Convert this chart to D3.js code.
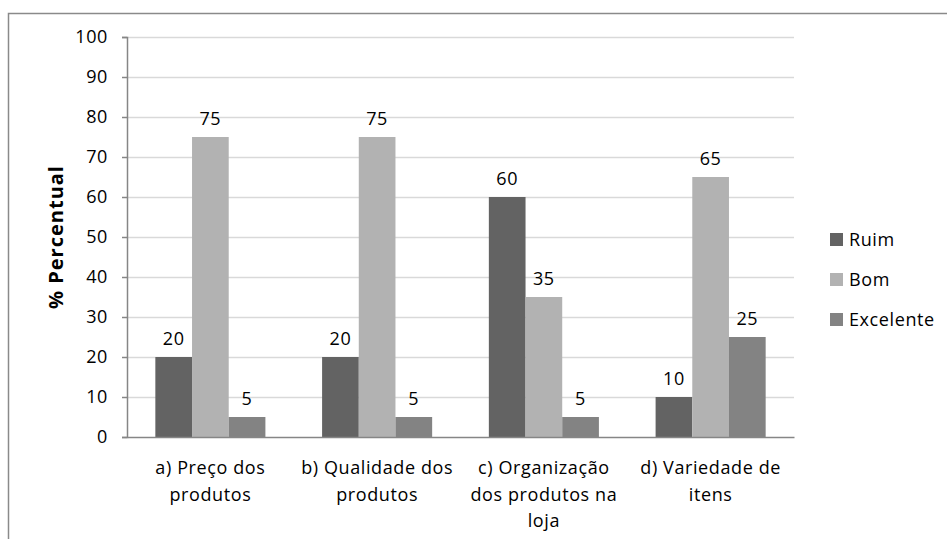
<!DOCTYPE html>
<html lang="pt">
<head>
<meta charset="UTF-8">
<title>Percentual</title>
<script src="https://cdnjs.cloudflare.com/ajax/libs/d3/7.8.4/d3.min.js"></script>
<style>
  body { margin: 0; background: #fff; }
  text { font-family: "Open Sans", sans-serif; fill: #000; letter-spacing: 0.6px; }
</style>
</head>
<body>
<div id="chart"></div>
<script>
// data
const categories = [
  ["a) Preço dos", "produtos"],
  ["b) Qualidade dos", "produtos"],
  ["c) Organização", "dos produtos na", "loja"],
  ["d) Variedade de", "itens"]
];
const seriesNames = ["Ruim", "Bom", "Excelente"];
const ruim = [20, 20, 60, 10];
const bom = [75, 75, 35, 65];
const excelente = [5, 5, 5, 25];
const yTicks = [0, 10, 20, 30, 40, 50, 60, 70, 80, 90, 100];

const colors = ["#636363", "#b2b2b2", "#838383"];
const values = [ruim, bom, excelente];

const w = 947, h = 539;
const padL = 127, padR = 794, padT = 37, padB = 437;

const svg = d3.select("#chart").append("svg")
  .attr("width", w).attr("height", h);

// outer frame (runs off right and bottom)
svg.append("rect")
  .attr("x", 8.5).attr("y", 13.5)
  .attr("width", 1000).attr("height", 600)
  .attr("fill", "none").attr("stroke", "#8a8a8a").attr("stroke-width", 1.5);

const catIdx = categories.map((c, i) => i);
const x0 = d3.scaleBand().domain(catIdx).range([padL, padR])
  .paddingInner(0.34).paddingOuter(0.17);
const x1 = d3.scaleBand().domain(seriesNames).range([0, x0.bandwidth()]);
const y = d3.scaleLinear().domain([0, 100]).range([padB, padT]);

// grid
svg.append("g").selectAll("line").data(yTicks.slice(1)).enter().append("line")
  .attr("x1", padL).attr("x2", padR)
  .attr("y1", d => Math.round(y(d)) + 0.5).attr("y2", d => Math.round(y(d)) + 0.5)
  .attr("stroke", "#d9d9d9").attr("stroke-width", 1.5);

// y axis
const yAxis = d3.axisLeft(y).tickValues(yTicks).tickSize(5).tickPadding(14);
const gy = svg.append("g").attr("transform", "translate(" + padL + ",0)").call(yAxis);
gy.select(".domain").attr("stroke", "#868686").attr("stroke-width", 1.5);
gy.selectAll(".tick line").attr("stroke", "#868686").attr("stroke-width", 1.5);
gy.selectAll(".tick text").attr("font-size", 18).attr("font-family", "Open Sans").attr("fill", "#000");

// bars
const groups = svg.append("g").selectAll("g").data(catIdx).enter().append("g")
  .attr("transform", d => "translate(" + x0(d) + ",0)");

groups.selectAll("rect")
  .data(i => seriesNames.map((s, k) => ({ s: s, k: k, v: values[k][i] })))
  .enter().append("rect")
  .attr("x", d => x1(d.s))
  .attr("width", x1.bandwidth())
  .attr("y", d => y(d.v))
  .attr("height", d => y(0) - y(d.v))
  .attr("fill", d => colors[d.k]);

groups.selectAll("text.lbl")
  .data(i => seriesNames.map((s, k) => ({ s: s, k: k, v: values[k][i] })))
  .enter().append("text")
  .attr("class", "lbl")
  .attr("x", d => x1(d.s) + x1.bandwidth() / 2)
  .attr("y", d => y(d.v) - 12)
  .attr("text-anchor", "middle")
  .attr("font-size", 18)
  .text(d => d.v);

// x axis
const xAxis = d3.axisBottom(x0).tickSize(0).tickFormat("");
const gx = svg.append("g").attr("transform", "translate(0," + padB + ")").call(xAxis);
gx.select(".domain").attr("stroke", "#868686").attr("stroke-width", 1.5);

const catLabels = svg.append("g").selectAll("text").data(catIdx).enter().append("text")
  .attr("text-anchor", "middle")
  .attr("font-size", 18)
  .attr("x", d => x0(d) + x0.bandwidth() / 2)
  .attr("y", 474);
catLabels.selectAll("tspan").data(d => categories[d]).enter().append("tspan")
  .attr("x", function () { return d3.select(this.parentNode).attr("x"); })
  .attr("dy", (d, i) => i === 0 ? 0 : 26.5)
  .text(d => d);

// y title
svg.append("text")
  .attr("transform", "translate(63,237) rotate(-90)")
  .attr("text-anchor", "middle")
  .attr("font-size", 20)
  .attr("font-weight", "bold")
  .style("letter-spacing", "1px")
  .text("% Percentual");

// legend
const legend = svg.append("g").selectAll("g").data(seriesNames).enter().append("g")
  .attr("transform", (d, i) => "translate(830," + (233 + i * 40) + ")");
legend.append("rect").attr("width", 13).attr("height", 13)
  .attr("fill", (d, i) => colors[i]);
legend.append("text").attr("x", 19).attr("y", 13)
  .attr("font-size", 18).text(d => d);
</script>
</body>
</html>
